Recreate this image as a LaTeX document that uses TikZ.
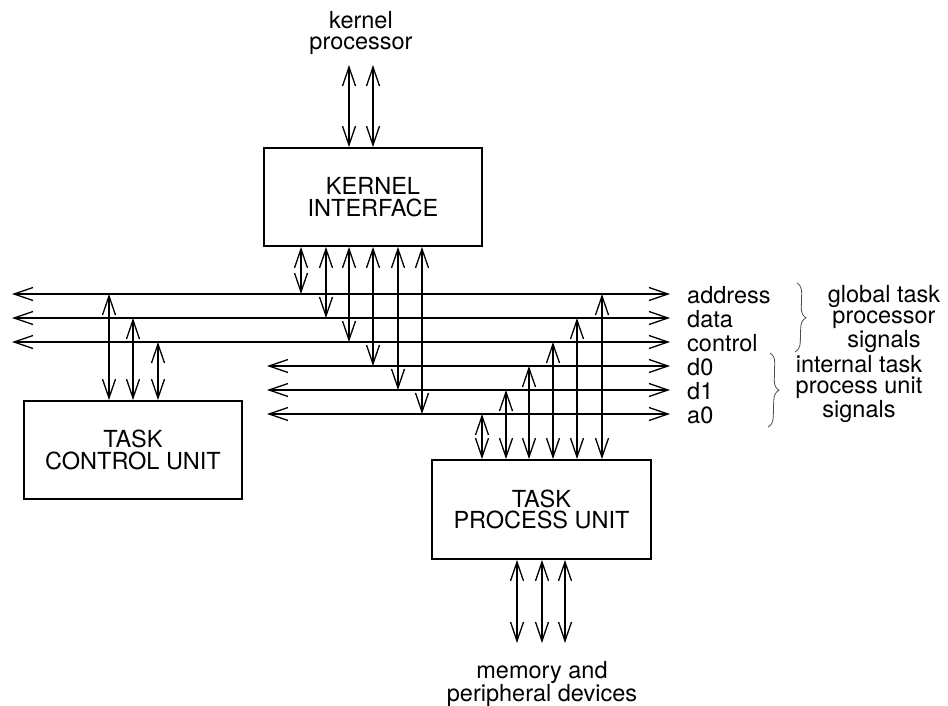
\documentclass[tikz,border=0pt]{standalone}
\usepackage{fontspec}
\setmainfont{TeX Gyre Heros}
\usetikzlibrary{arrows.meta,calc,decorations.pathreplacing}
\begin{document}
\begin{tikzpicture}[x=1pt,y=-1pt,
  font=\fontsize{23.5}{21.5}\selectfont,
  box/.style={draw, line width=1.8pt, minimum width=218pt, minimum height=98pt, align=center, inner sep=0pt},
  bus/.style={line width=1.3pt, {Straight Barb[length=19pt,width=13pt]}-{Straight Barb[length=19pt,width=13pt]}},
  lbl/.style={anchor=base west, inner sep=0pt},
  txt/.style={align=center, anchor=north, inner sep=0pt},
  brc/.style={draw=black!70, line width=0.8pt, decorate, decoration={brace, amplitude=10pt}}
]
\useasboundingbox (0,0) rectangle (948,706);

% boxes
\node[box] (ki)  at (373,197)     {KERNEL\\INTERFACE};
\node[box] (tcu) at (133,450)     {TASK\\CONTROL UNIT};
\node[box, minimum width=219pt, minimum height=99pt] (tpu) at (541.5,509.5) {TASK\\PROCESS UNIT};

% bus lines
\coordinate (addrL) at (12,294);  \coordinate (addrR) at (670,294);
\coordinate (dataL) at (12,318);  \coordinate (dataR) at (670,318);
\coordinate (ctrlL) at (12,342);  \coordinate (ctrlR) at (670,342);
\coordinate (d0L)   at (267,366); \coordinate (d0R)   at (670,366);
\coordinate (d1L)   at (267,390); \coordinate (d1R)   at (670,390);
\coordinate (a0L)   at (267,414); \coordinate (a0R)   at (670,414);
\foreach \b in {addr,data,ctrl,d0,d1,a0} {
  \draw[bus] (\b L) -- (\b R);
}

% bus labels
\node[lbl] (laddr) at ($(addrR)+(17,9)$) {address};
\node[lbl] (ldata) at ($(dataR)+(17,9)$) {data};
\node[lbl] (lctrl) at ($(ctrlR)+(17,9)$) {control};
\node[lbl] (ld0)   at ($(d0R)+(17,9)$)   {d0};
\node[lbl] (ld1)   at ($(d1R)+(17,9)$)   {d1};
\node[lbl] (la0)   at ($(a0R)+(17,9)$)   {a0};

% kernel processor link
\foreach \x [count=\i] in {349,373} {
  \coordinate (kp\i) at (\x,65);
  \draw[bus] (kp\i) -- (kp\i |- ki.north);
}
% kernel interface to bus
\foreach \x/\b [count=\i] in {301/addr,326/data,349/ctrl,373/d0,398/d1,422/a0} {
  \coordinate (kb\i) at (\x,0);
  \draw[bus] (kb\i |- ki.south) -- (kb\i |- \b L);
}
% task control unit to bus
\foreach \x/\b [count=\i] in {109/addr,133/data,158/ctrl} {
  \coordinate (cb\i) at (\x,0);
  \draw[bus] (cb\i |- \b L) -- (cb\i |- tcu.north);
}
% task process unit to bus
\foreach \x/\b [count=\i] in {482/a0,506/d1,529/d0,553/ctrl,577/data,602/addr} {
  \coordinate (pb\i) at (\x,0);
  \draw[bus] (pb\i |- \b L) -- (pb\i |- tpu.north);
}
% task process unit to memory
\foreach \x [count=\i] in {517,542,565} {
  \coordinate (mem\i) at (\x,643);
  \draw[bus] (mem\i |- tpu.south) -- (mem\i);
}

% texts
\node[txt] (kpt)  at (361,11)  {kernel\\processor};
\node[txt] (memt) at (542,661) {memory and\\peripheral devices};
\node[txt] (glob) at (884,285) {global task\\processor\\signals};
\node[txt] (intl) at (859,355) {internal task\\process unit\\signals};

% braces
\coordinate (b1t) at (797,283); \coordinate (b1b) at (795,352);
\coordinate (b2t) at (770,353); \coordinate (b2b) at (768,427);
\draw[brc] (b1t) -- (b1b);
\draw[brc] (b2t) -- (b2b);
\end{tikzpicture}
\end{document}
